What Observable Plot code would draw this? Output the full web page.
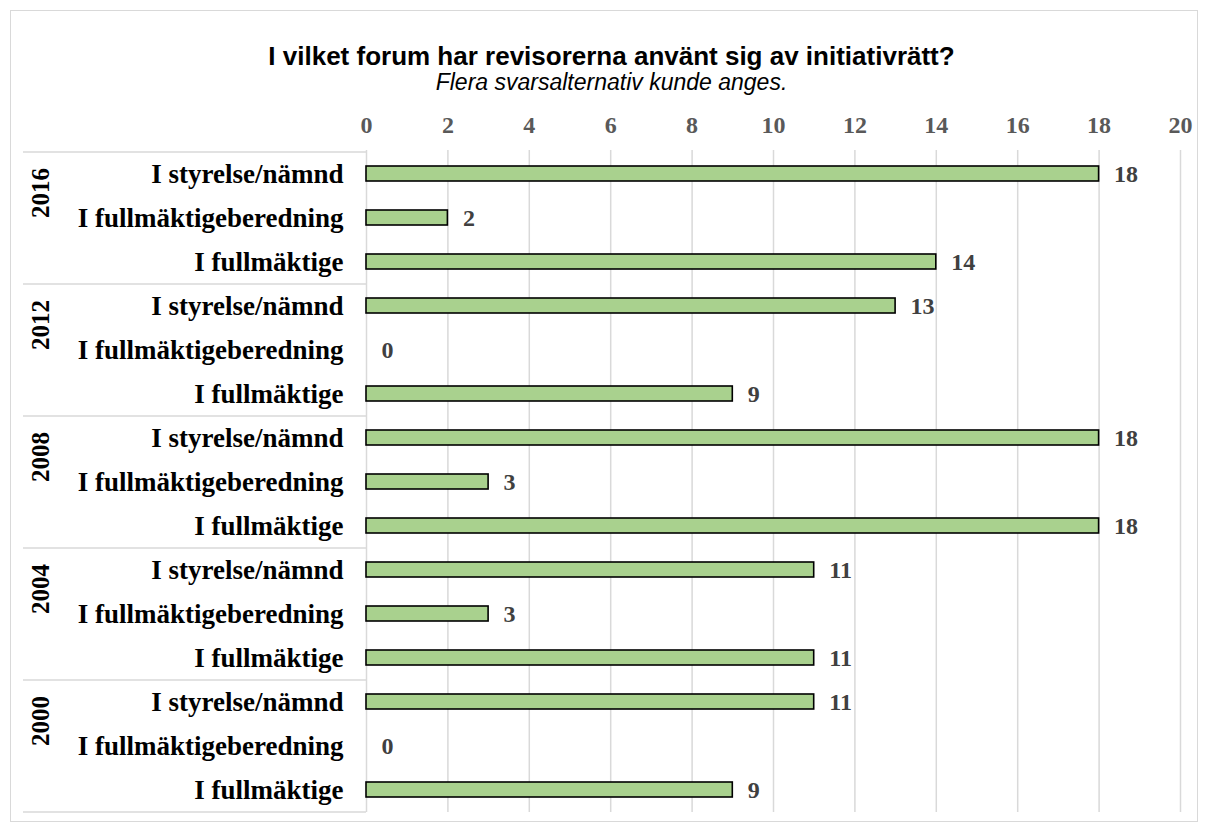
<!DOCTYPE html>
<html>
<head>
<meta charset="utf-8">
<script src="https://cdn.jsdelivr.net/npm/d3@7"></script>
<script src="https://cdn.jsdelivr.net/npm/@observablehq/plot@0.6"></script>
<style>
  html, body { margin: 0; padding: 0; background: #fff; }
  #frame { position: absolute; left: 10px; top: 10px; width: 1186px; height: 810px; border: 1.5px solid #d9d9d9; }
  #title { position: absolute; left: 0; top: 41px; width: 1223px; text-align: center; line-height: 30px; font-family: "Liberation Sans", Arial, sans-serif; font-weight: bold; font-size: 26px; color: #000; }
  #subtitle { position: absolute; left: 0; top: 69px; width: 1223px; text-align: center; line-height: 26px; font-family: "Liberation Sans", Arial, sans-serif; font-style: italic; font-size: 23px; color: #000; }
  #chart { position: absolute; left: 0; top: 0; }
</style>
</head>
<body>
<div id="frame"></div>
<div id="chart"></div>
<div id="title">I vilket forum har revisorerna använt sig av initiativrätt?</div>
<div id="subtitle">Flera svarsalternativ kunde anges.</div>
<script>
const years = ["2016", "2012", "2008", "2004", "2000"];
const categories = ["I styrelse/nämnd", "I fullmäktigeberedning", "I fullmäktige"];
// values per year, in category order
const values2016 = [18, 2, 14];
const values2012 = [13, 0, 9];
const values2008 = [18, 3, 18];
const values2004 = [11, 3, 11];
const values2000 = [11, 0, 9];
const xTicks = [0, 2, 4, 6, 8, 10, 12, 14, 16, 18, 20];

const valuesByYear = {"2016": values2016, "2012": values2012, "2008": values2008, "2004": values2004, "2000": values2000};
const rows = [];
for (const y of years) {
  categories.forEach((c, i) => rows.push({year: y, cat: c, key: y + "|" + c, value: valuesByYear[y][i]}));
}
const keys = rows.map(d => d.key);

const W = 1209, H = 832;
const mL = 366, mR = 29, mT = 150, mB = 20;
const step = (H - mT - mB) / keys.length;

const lastKey = keys[keys.length - 1];
const sepData = years.map(y => ({key: y + "|" + categories[0], dy: -step / 2}))
  .concat([{key: lastKey, dy: step / 2}]);

const chart = Plot.plot({
  width: W,
  height: H,
  marginLeft: mL,
  marginRight: mR,
  marginTop: mT,
  marginBottom: mB,
  style: {fontFamily: "'Liberation Serif', 'Times New Roman', serif", fontWeight: "bold", fontSize: "24px", background: "transparent", overflow: "visible"},
  x: {domain: [0, 20], label: null},
  y: {domain: keys, paddingInner: 0.66, paddingOuter: 0.33, label: null},
  marks: [
    Plot.ruleX(xTicks, {x: d => d, stroke: "#d9d9d9", strokeWidth: 1.5, strokeOpacity: 1}),
    ...sepData.map(s => Plot.ruleY([s.key], {y: d => d, dy: s.dy, stroke: "#d9d9d9", strokeWidth: 1.5, insetLeft: -(mL - 23), insetRight: (W - mL - mR)})),
    Plot.barX(rows.filter(d => d.value > 0), {x: "value", y: "key", fill: "#a9d18e", stroke: "#000", strokeWidth: 1.6}),
    Plot.text(rows, {x: "value", y: "key", text: d => String(d.value), textAnchor: "start", dx: 15, fill: "#404040", fontSize: 24, fontWeight: "bold"}),
    Plot.axisX({anchor: "top", ticks: xTicks, tickSize: 0, tickPadding: 18, fill: "#595959", tickFormat: d => String(d), fontSize: 24, label: null}),
    Plot.axisY({tickSize: 0, tickPadding: 23, tickFormat: k => k.split("|")[1], fill: "#000", fontSize: 27, label: null}),
    Plot.text(years, {y: d => d + "|" + categories[1], text: d => d, frameAnchor: "left", dx: -(mL - 40), rotate: -90, fill: "#000", fontSize: 25, fontWeight: "bold"})
  ]
});
document.getElementById("chart").appendChild(chart);
</script>
</body>
</html>
